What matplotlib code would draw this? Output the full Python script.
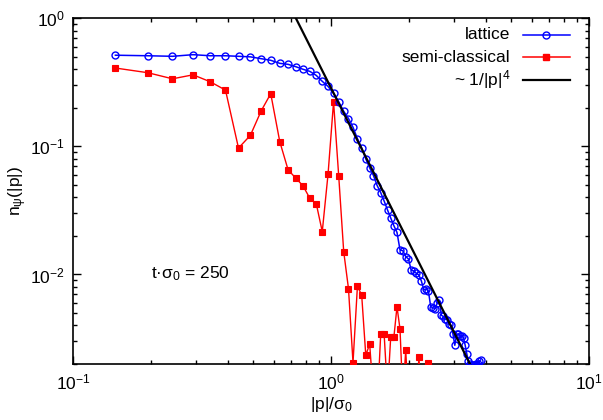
import matplotlib
matplotlib.use("Agg")
import numpy as np
import matplotlib.pyplot as plt
from matplotlib.lines import Line2D
from matplotlib.ticker import LogLocator, LogFormatterMathtext, NullFormatter

plt.rcParams['font.family'] = ['Liberation Sans', 'DejaVu Sans']
plt.rcParams['mathtext.fontset'] = 'custom'
plt.rcParams['mathtext.rm'] = 'Liberation Sans'
plt.rcParams['mathtext.it'] = 'Liberation Sans:italic'
plt.rcParams['mathtext.sf'] = 'Liberation Sans'
plt.rcParams['axes.unicode_minus'] = False

# momentum grid |p|/sigma_0
p_lattice = [0.146, 0.195, 0.243, 0.292, 0.341, 0.390, 0.438, 0.487, 0.536, 0.584,
             0.633, 0.682, 0.730, 0.779, 0.828, 0.877, 0.925, 0.974, 1.023, 1.071,
             1.120, 1.169, 1.217, 1.266, 1.315, 1.364, 1.412, 1.461, 1.510, 1.558,
             1.607, 1.656, 1.704, 1.753, 1.802, 1.851, 1.899, 1.948, 1.997, 2.045,
             2.094, 2.143, 2.191, 2.240, 2.289, 2.338, 2.386, 2.435, 2.484, 2.532,
             2.581, 2.630, 2.678, 2.727, 2.776, 2.825, 2.873, 2.922, 2.971, 3.019,
             3.068, 3.117, 3.165, 3.214, 3.263, 3.312, 3.360, 3.409, 3.458, 3.506,
             3.555, 3.604, 3.652, 3.701, 3.750, 3.799]

# lattice occupation numbers
n_lattice = [0.515, 0.51, 0.505, 0.52, 0.51, 0.51, 0.505, 0.50, 0.484, 0.47,
             0.445, 0.437, 0.419, 0.40, 0.385, 0.358, 0.322, 0.294, 0.259, 0.223,
             0.188, 0.165, 0.141, 0.115, 0.0973, 0.080, 0.068, 0.0592, 0.0494, 0.0436,
             0.0374, 0.0319, 0.0276, 0.024, 0.0213, 0.0156, 0.0153, 0.0138, 0.0132, 0.0108,
             0.01065, 0.0102, 0.0099, 0.0089, 0.0076, 0.0077, 0.0074, 0.0056, 0.0055, 0.0054,
             0.0060, 0.0063, 0.0048, 0.0047, 0.0045, 0.0044, 0.0041, 0.0040, 0.0034, 0.0028,
             0.0034, 0.0034, 0.0033, 0.0033, 0.0032, 0.0028, 0.0024, 0.0021, 0.0020, 0.00197,
             0.00196, 0.00198, 0.00199, 0.0020, 0.0021, 0.00215]

# semi-classical occupation numbers on the same grid
n_semi = [0.409, 0.376, 0.337, 0.362, 0.319, 0.275, 0.097, 0.122, 0.189, 0.258,
          0.109, 0.0655, 0.0566, 0.0492, 0.0393, 0.0356, 0.0216, 0.0607, 0.2226, 0.0592,
          0.0151, 0.00774, 0.00205, 0.0081, 0.0069, 0.00234, 0.00287, 0.0011, 0.0009, 0.0034,
          0.0034, 0.0012, 0.00325, 0.00325, 0.0056, 0.00376, 0.0011, 0.00256, 0.0010, 0.0008,
          0.0009, 0.0010, 0.00225, 0.0011, 0.0008, 0.0010, 0.00202, 0.0009]
p_semi = p_lattice[:len(n_semi)]

# power-law reference ~ 1/|p|^4
power_coeff = 0.286
power_p = np.array([0.5, 10.0])
power_n = power_coeff / power_p ** 4

W, H = 603, 420
fig = plt.figure(figsize=(W / 100, H / 100), dpi=100)
left, right, top, bottom = 73, 589, 18.3, 364
ax = fig.add_axes([left / W, 1 - bottom / H, (right - left) / W, (bottom - top) / H])

blue = '#0000ff'
red = '#ff0000'

ax.plot(p_semi, n_semi, color=red, lw=1.0, marker='s', ms=4.2,
        mfc=red, mec=red, mew=0.8, zorder=3)
ax.plot(p_lattice, n_lattice, color=blue, lw=1.1, marker='o', ms=5,
        mfc='none', mec=blue, mew=1.0, zorder=4)
ax.plot(power_p, power_n, color='black', lw=1.6, zorder=5)

ax.set_xscale('log')
ax.set_yscale('log')
ax.set_xlim(0.1, 10)
ax.set_ylim(0.002, 1)

fs = 12.5
for a in (ax.xaxis, ax.yaxis):
    a.set_major_locator(LogLocator(base=10, numticks=10))
    a.set_minor_locator(LogLocator(base=10, subs=np.arange(2, 10), numticks=20))
    a.set_major_formatter(LogFormatterMathtext())
    a.set_minor_formatter(NullFormatter())
ax.tick_params(which='both', direction='in', top=True, right=True, width=1.0,
               labelsize=fs, colors='black')
ax.tick_params(which='major', length=6, pad=6)
ax.tick_params(which='minor', length=3.2)
for s in ax.spines.values():
    s.set_linewidth(1.2)

fig.text(18 / W, 1 - 191 / H, 'n$_{\\mathrm{ψ}}$(|p|)', rotation=90,
         ha='center', va='center', fontsize=fs)
fig.text(331 / W, 1 - 405 / H, '|p|/σ$_0$', ha='center', va='center', fontsize=fs)

ax.text(0.2, 0.0102, 't·σ$_0$ = 250', ha='left', va='center', fontsize=fs)

# key in the upper right corner: labels right-aligned, samples to their right
entries = [('lattice', blue, 'o', 'none'),
           ('semi-classical', red, 's', red),
           ('~ 1/|p|$^4$', 'black', None, None)]
row_y = [0.9526, 0.8872, 0.8215]
for (lab, col, mk, fc), yy in zip(entries, row_y):
    ax.text(0.848, yy, lab, transform=ax.transAxes, ha='right', va='center',
            fontsize=fs)
    ax.add_line(Line2D([0.8715, 0.963], [yy, yy], transform=ax.transAxes,
                       color=col, lw=1.6 if mk is None else 1.1, clip_on=False))
    if mk is not None:
        ax.add_line(Line2D([0.916], [yy], transform=ax.transAxes, color=col,
                           marker=mk, ms=5 if mk == 'o' else 4.2, mfc=fc, mec=col,
                           mew=1.0, linestyle='none', clip_on=False))

fig.savefig('out.png', dpi=100)
